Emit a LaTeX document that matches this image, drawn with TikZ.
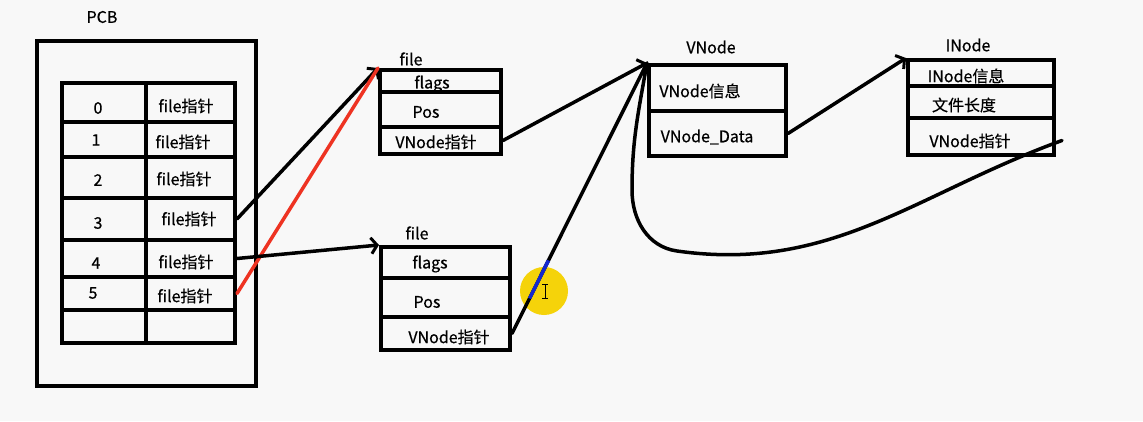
\documentclass[tikz,border=0pt]{standalone}
\usepackage{fontspec}
\setmainfont{Noto Sans CJK SC}[UprightFeatures={FakeBold=0.5}]
\usetikzlibrary{arrows.meta,calc}
\definecolor{bg}{HTML}{F8F8F8}
\definecolor{cursor}{HTML}{F5D30A}
\definecolor{redline}{HTML}{EE3322}
\definecolor{blueline}{HTML}{1428D0}
\begin{document}
\begin{tikzpicture}[x=1pt,y=-1pt,
  cell/.style={draw,line width=4pt,inner sep=0pt,fill=none},
  txt/.style={inner sep=0pt,font=\fontsize{16}{19}\selectfont},
  conn/.style={line width=3.5pt,line cap=round},
  head/.style={-{Straight Barb[length=6pt,width=16pt,line width=3pt]}}]
\fill[bg] (0,0) rectangle (1143,421);
\useasboundingbox (0,0) rectangle (1143,421);
% PCB
\node[txt] (lpcb) at (102,17) {PCB};
\node[cell,minimum width=219pt,minimum height=345pt] (pcb) at (146.5,213.5) {};
\foreach \n/\c/\h in {0/102.5/39,1/139.5/35,2/177.5/41,3/219/42,4/258.5/37,5/293.5/33,6/326.5/33}{
  \node[cell,minimum width=84pt,minimum height=\h pt] (a\n) at (104,\c) {};
  \node[cell,minimum width=89pt,minimum height=\h pt] (b\n) at (190.5,\c) {};
}
\foreach \n/\x/\y in {0/98/108,1/96/140,2/98/180,3/98/223,4/96/263,5/93/293}{
  \node[txt] (na\n) at (\x,\y) {\n};
}
\foreach \n/\x/\y in {0/186/106,1/183/142,2/184/179,3/189/219,4/186/262,5/185/296}{
  \node[txt] (nb\n) at (\x,\y) {file指针};
}
% file 1
\node[txt] (lf1) at (411,59) {file};
\node[cell,minimum width=121pt,minimum height=22pt] (f1a) at (440.5,81) {};
\node[cell,minimum width=121pt,minimum height=35pt] (f1b) at (440.5,109.5) {};
\node[cell,minimum width=121pt,minimum height=27pt] (f1c) at (440.5,140.5) {};
\node[txt] (tf1a) at (432,84) {flags};
\node[txt] (tf1b) at (426,112) {Pos};
\node[txt] (tf1c) at (436,142) {VNode指针};
% file 2
\node[txt] (lf2) at (417,233) {file};
\node[cell,minimum width=129pt,minimum height=31pt] (f2a) at (445.5,262.5) {};
\node[cell,minimum width=129pt,minimum height=39pt] (f2b) at (445.5,297.5) {};
\node[cell,minimum width=129pt,minimum height=33pt] (f2c) at (445.5,333.5) {};
\node[txt] (tf2a) at (430,264) {flags};
\node[txt] (tf2b) at (427,302) {Pos};
\node[txt] (tf2c) at (449,337) {VNode指针};
% VNode
\node[txt] (lv) at (711,47) {VNode};
\node[cell,minimum width=137pt,minimum height=46pt] (v1) at (717.5,88) {};
\node[cell,minimum width=137pt,minimum height=45pt] (v2) at (717.5,133.5) {};
\node[txt] (tv1) at (700,91) {VNode信息};
\node[txt] (tv2) at (707,137) {VNode\_Data};
% INode
\node[txt] (li) at (968,45) {INode};
\node[cell,minimum width=146pt,minimum height=26pt] (i1) at (981,73) {};
\node[cell,minimum width=146pt,minimum height=32pt] (i2) at (981,102) {};
\node[cell,minimum width=146pt,minimum height=37pt] (i3) at (981,136.5) {};
\node[txt] (ti1) at (966,76) {INode信息};
\node[txt] (ti2) at (964,105) {文件长度};
\node[txt] (ti3) at (970,141) {VNode指针};
% cursor highlight
\node[circle,fill=cursor,minimum size=48pt,inner sep=0pt] (cur) at (544,291) {};
% connectors
\draw[conn,head] (b3.east) -- (f1a.north west);
\draw[conn,redline] (b5.east) -- (f1a.north west);
\draw[conn,head] (b4.east) -- (f2a.north west);
\draw[conn,head] (f1c.east) -- (v1.north west);
\draw[conn] (f2c.east) -- (v1.north west);
\draw[conn,blueline,line cap=butt] ($(f2c.east)!0.13!(v1.north west)$) -- ($(f2c.east)!0.27!(v1.north west)$);
\draw[conn,head] (v2.east) -- (i1.north west);
\coordinate (cb) at (677,251);
\coordinate (cl) at (632,190);
\draw[conn] ($(i3.east)+(6,4)$) to[out=200,in=-8] (cb) to[out=172,in=-90] (cl) to[out=90,in=-100] (v1.north west);
% I-beam cursor
\draw[line width=1pt] (545,284) -- (545,298) (542,284) -- (548,284) (542,298) -- (548,298);
\end{tikzpicture}
\end{document}
